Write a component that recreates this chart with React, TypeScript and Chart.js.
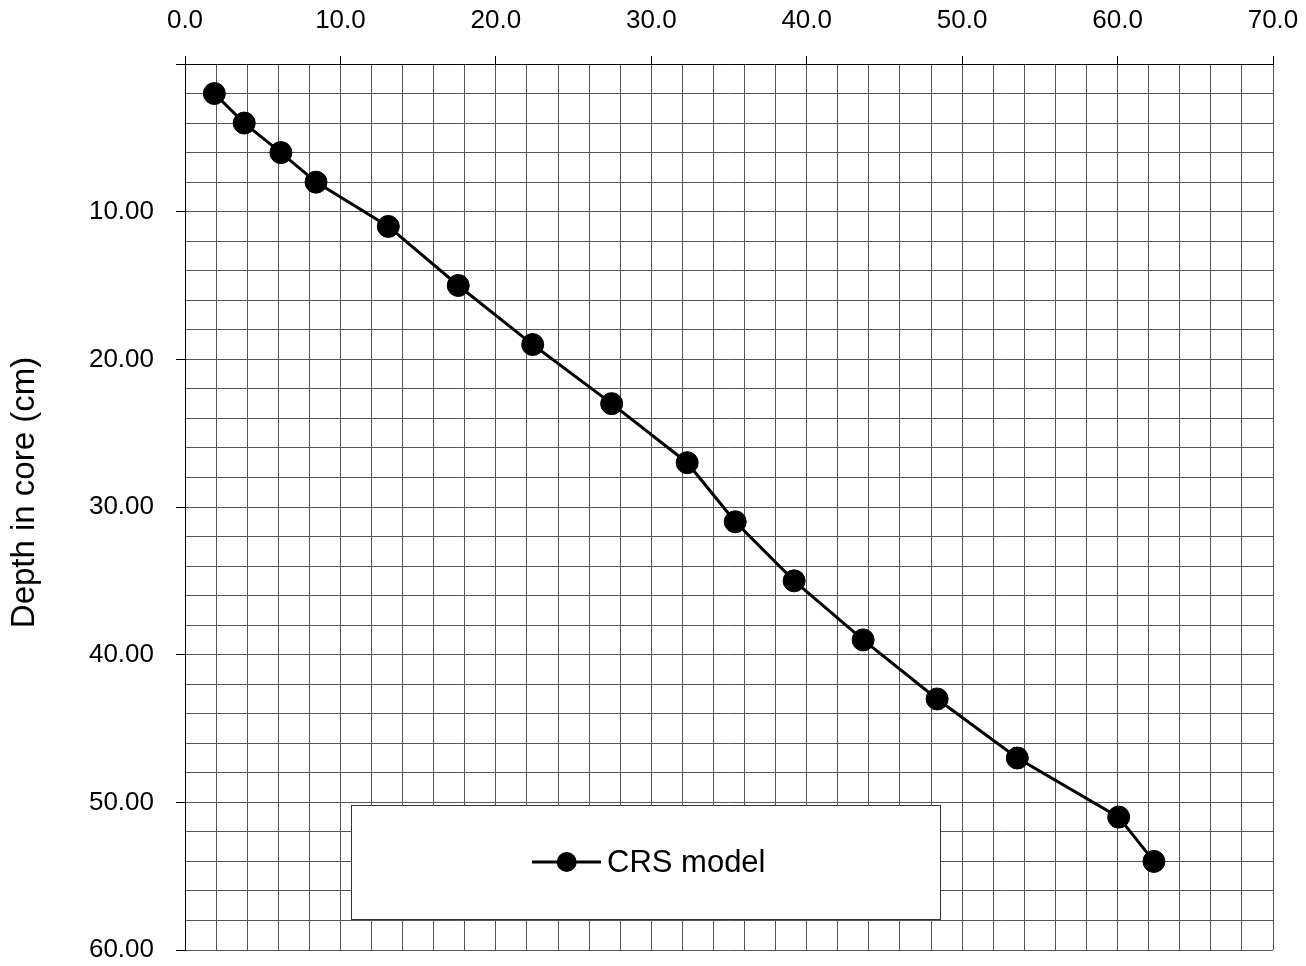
import React, { useEffect, useRef } from "react";
import { Chart, registerables } from "chart.js";

Chart.register(...registerables);

// Data
const ageValues = [1.89, 3.81, 6.17, 8.43, 13.08, 17.58, 22.37, 27.45, 32.31, 35.4, 39.19, 43.63, 48.39, 53.55, 60.07, 62.34];
const depthValues = [2, 4, 6, 8, 11, 15, 19, 23, 27, 31, 35, 39, 43, 47, 51, 54];
const seriesLabel = "CRS model";
const yAxisTitle = "Depth in core (cm)";
const xRange = [0, 70];
const yRange = [0, 60];

const FONT = "'Liberation Sans', Arial, sans-serif";

const yTitlePlugin = {
  id: "yTitlePlugin",
  afterDraw(chart: any) {
    const ctx = chart.ctx;
    ctx.save();
    ctx.translate(24.6, 492.5);
    ctx.rotate(-Math.PI / 2);
    ctx.font = `33px ${FONT}`;
    ctx.fillStyle = "#000";
    ctx.textAlign = "center";
    ctx.textBaseline = "middle";
    ctx.fillText(yAxisTitle, 0, 0);
    ctx.restore();
  },
};

const legendBoxPlugin = {
  id: "legendBoxPlugin",
  afterDraw(chart: any) {
    const ctx = chart.ctx;
    const ds = chart.data.datasets[0];
    ctx.save();
    ctx.fillStyle = "#fff";
    ctx.fillRect(351, 805, 589, 114);
    ctx.strokeStyle = "#333";
    ctx.lineWidth = 1;
    ctx.strokeRect(351.5, 805.5, 589, 114);
    const cy = 862;
    ctx.strokeStyle = ds.borderColor;
    ctx.lineWidth = 3;
    ctx.beginPath();
    ctx.moveTo(532, cy);
    ctx.lineTo(601, cy);
    ctx.stroke();
    ctx.fillStyle = ds.pointBackgroundColor;
    ctx.beginPath();
    ctx.arc(566.7, cy, 10, 0, Math.PI * 2);
    ctx.fill();
    ctx.fillStyle = "#000";
    ctx.font = `31px ${FONT}`;
    ctx.textAlign = "left";
    ctx.textBaseline = "middle";
    ctx.fillText(ds.label, 607, cy + 1);
    ctx.restore();
  },
};

function zeroPadding(scale: any) {
  scale.paddingLeft = 0;
  scale.paddingRight = 0;
  scale.paddingTop = 0;
  scale.paddingBottom = 0;
}

export default function App() {
  const canvasRef = useRef<HTMLCanvasElement | null>(null);

  useEffect(() => {
    const canvas = canvasRef.current;
    if (!canvas) return;
    const points = ageValues.map((x, i) => ({ x, y: depthValues[i] }));
    const chart = new Chart(canvas, {
      type: "line",
      data: {
        datasets: [
          {
            label: seriesLabel,
            data: points,
            borderColor: "#000",
            backgroundColor: "#000",
            borderWidth: 3,
            pointRadius: 11,
            pointBackgroundColor: "#000",
            pointBorderColor: "#000",
            pointBorderWidth: 1,
            pointStyle: "circle",
            tension: 0,
            fill: false,
          },
        ],
      },
      options: {
        animation: false,
        responsive: false,
        devicePixelRatio: 1,
        layout: { padding: { top: 0, left: 0, right: 33, bottom: 16 } },
        plugins: {
          legend: { display: false },
          tooltip: { enabled: false },
          title: { display: false },
        },
        scales: {
          x: {
            type: "linear",
            position: "top",
            min: xRange[0],
            max: xRange[1],
            afterFit: (scale: any) => {
              scale.height = 64;
              zeroPadding(scale);
            },
            ticks: {
              stepSize: 2,
              autoSkip: false,
              maxRotation: 0,
              padding: 20,
              color: "#000",
              font: { family: FONT, size: 26 },
              callback: (v: any) => (Math.round(Number(v)) % 10 === 0 ? Number(v).toFixed(1) : ""),
            },
            grid: {
              color: "#555",
              lineWidth: 1,
              tickLength: 8,
              tickColor: (c: any) =>
                c.tick && Math.round(c.tick.value) % 10 === 0 ? "#000" : "rgba(0,0,0,0)",
            },
            border: { display: true, color: "#000", width: 1 },
          },
          y: {
            type: "linear",
            reverse: true,
            min: yRange[0],
            max: yRange[1],
            afterFit: (scale: any) => {
              scale.width = 185;
              zeroPadding(scale);
            },
            ticks: {
              stepSize: 2,
              autoSkip: false,
              padding: 22,
              color: "#000",
              font: { family: FONT, size: 26 },
              callback: (v: any) => {
                const n = Math.round(Number(v));
                return n % 10 === 0 && n !== 0 ? Number(v).toFixed(2) : "";
              },
            },
            grid: {
              color: "#555",
              lineWidth: 1,
              tickLength: 9,
              tickColor: (c: any) =>
                c.tick && Math.round(c.tick.value) % 10 === 0 ? "#000" : "rgba(0,0,0,0)",
            },
            border: { display: true, color: "#000", width: 1 },
          },
        },
      },
      plugins: [yTitlePlugin, legendBoxPlugin],
    } as any);
    return () => {
      chart.destroy();
    };
  }, []);

  return (
    <div style={{ position: "absolute", left: 0, top: 0, width: 1306, height: 966, background: "#fff" }}>
      <canvas ref={canvasRef} width={1306} height={966} style={{ display: "block" }} />
    </div>
  );
}
